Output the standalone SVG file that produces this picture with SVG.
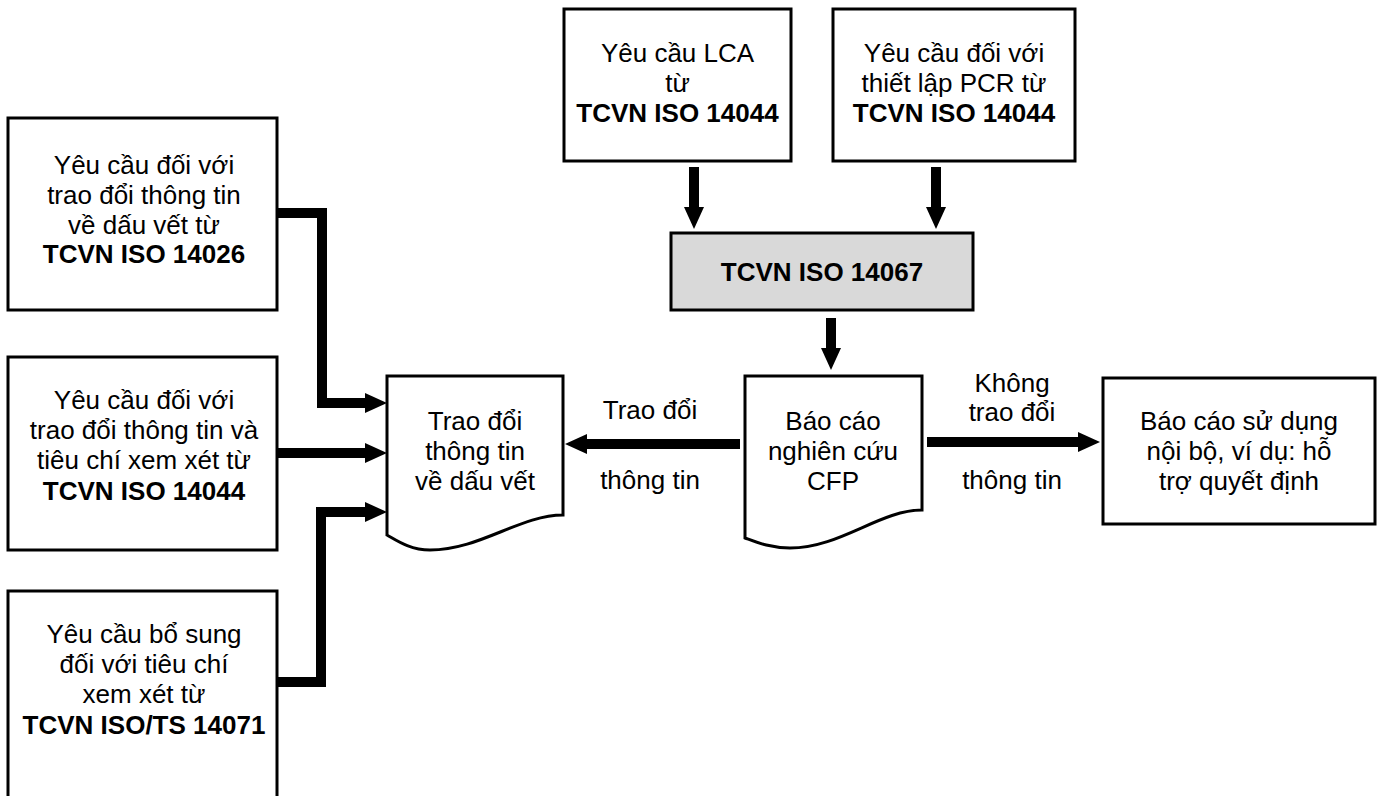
<svg xmlns="http://www.w3.org/2000/svg" width="1383" height="796" viewBox="0 0 1383 796">
<style>
.box{fill:#fff;stroke:#000;stroke-width:3}
.gray{fill:#d9d9d9;stroke:#000;stroke-width:3}
.t{font-family:"Liberation Sans",Arial,sans-serif;font-size:26px;text-anchor:middle;fill:#000}
.b{font-weight:bold}
.c{fill:none;stroke:#000;stroke-width:10}
</style>
<defs>
<marker id="ah" markerUnits="userSpaceOnUse" markerWidth="22" markerHeight="20" refX="0" refY="10" orient="auto" overflow="visible">
<path d="M0,0 L22,10 L0,20 Z" fill="#000"/>
</marker>
</defs>
<rect width="1383" height="796" fill="#fff"/>

<g id="n-lca">
<rect class="box" x="564" y="9" width="227" height="152"/>
<text class="t" x="677.5" y="62">Yêu cầu LCA</text>
<text class="t" x="677.5" y="92">từ</text>
<text class="t b" x="677.5" y="122">TCVN ISO 14044</text>
</g>
<g id="n-pcr">
<rect class="box" x="833" y="9" width="242" height="152"/>
<text class="t" x="954" y="62">Yêu cầu đối với</text>
<text class="t" x="954" y="92">thiết lập PCR từ</text>
<text class="t b" x="954" y="122">TCVN ISO 14044</text>
</g>
<g id="n-14067">
<rect class="gray" x="671" y="233" width="302" height="77"/>
<text class="t b" x="822" y="281">TCVN ISO 14067</text>
</g>
<g id="n-14026">
<rect class="box" x="8" y="118" width="269" height="192"/>
<text class="t" x="144" y="174">Yêu cầu đối với</text>
<text class="t" x="144" y="204">trao đổi thông tin</text>
<text class="t" x="144" y="234">về dấu vết từ</text>
<text class="t b" x="144" y="263">TCVN ISO 14026</text>
</g>
<g id="n-14044">
<rect class="box" x="8" y="357" width="269" height="193"/>
<text class="t" x="144" y="409">Yêu cầu đối với</text>
<text class="t" x="144" y="439">trao đổi thông tin và</text>
<text class="t" x="144" y="469">tiêu chí xem xét từ</text>
<text class="t b" x="144" y="500">TCVN ISO 14044</text>
</g>
<g id="n-14071">
<rect class="box" x="8" y="591" width="269" height="215"/>
<text class="t" x="144" y="643">Yêu cầu bổ sung</text>
<text class="t" x="144" y="673">đối với tiêu chí</text>
<text class="t" x="144" y="703">xem xét từ</text>
<text class="t b" x="144" y="734">TCVN ISO/TS 14071</text>
</g>
<g id="n-comm">
<path class="box" d="M387,376 H563 V515 C520,515 480,550 430,550 C410,550 396,540 387,535 Z"/>
<text class="t" x="475" y="430">Trao đổi</text>
<text class="t" x="475" y="460">thông tin</text>
<text class="t" x="475" y="490">về dấu vết</text>
</g>
<g id="n-cfp">
<path class="box" d="M745,376 H922 V510 C880,510 840,548 790,548 C770,548 756,542 745,538 Z"/>
<text class="t" x="833" y="430">Báo cáo</text>
<text class="t" x="833" y="460">nghiên cứu</text>
<text class="t" x="833" y="490">CFP</text>
</g>
<g id="n-internal">
<rect class="box" x="1103" y="378" width="272" height="146"/>
<text class="t" x="1239" y="430">Báo cáo sử dụng</text>
<text class="t" x="1239" y="460">nội bộ, ví dụ: hỗ</text>
<text class="t" x="1239" y="490">trợ quyết định</text>
</g>

<g id="connectors">
<line class="c" x1="694" y1="167" x2="694" y2="207" marker-end="url(#ah)"/>
<line class="c" x1="936" y1="167" x2="936" y2="207" marker-end="url(#ah)"/>
<line class="c" x1="831" y1="318" x2="831" y2="348" marker-end="url(#ah)"/>
<line class="c" x1="740" y1="444" x2="587" y2="444" marker-end="url(#ah)"/>
<line class="c" x1="927" y1="442" x2="1078" y2="442" marker-end="url(#ah)"/>
<polyline class="c" points="278,213 322,213 322,403 365,403" marker-end="url(#ah)"/>
<line class="c" x1="278" y1="453" x2="365" y2="453" marker-end="url(#ah)"/>
<polyline class="c" points="278,682 321,682 321,512 365,512" marker-end="url(#ah)"/>
<text class="t" x="650" y="419">Trao đổi</text>
<text class="t" x="650" y="489">thông tin</text>
<text class="t" x="1012" y="392">Không</text>
<text class="t" x="1012" y="421">trao đổi</text>
<text class="t" x="1012" y="489">thông tin</text>
</g>
</svg>
